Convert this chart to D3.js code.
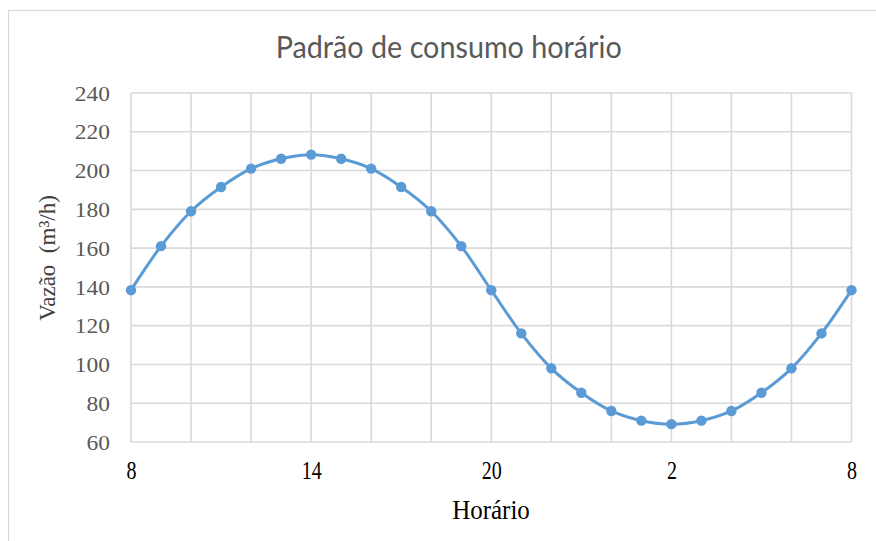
<!DOCTYPE html>
<html>
<head>
<meta charset="utf-8">
<script src="https://cdn.jsdelivr.net/npm/d3@7"></script>
<style>
  html, body { margin: 0; padding: 0; background: #fff; }
  svg { display: block; }
</style>
</head>
<body>
<svg id="chart" width="876" height="541"></svg>
<script>
// ---- data ----
const hours = [8, 9, 10, 11, 12, 13, 14, 15, 16, 17, 18, 19, 20, 21, 22, 23, 0, 1, 2, 3, 4, 5, 6, 7, 8];
const vazao = [138.3, 161, 179, 191.5, 201, 206.1, 208.2, 206.1, 201, 191.5, 179, 161, 138.3, 116, 98, 85.4, 76, 71, 69.2, 71, 76, 85.4, 98, 116, 138.3];
const yTicks = [60, 80, 100, 120, 140, 160, 180, 200, 220, 240];
const xLabelIdx = [0, 6, 12, 18, 24];
const xGridIdx = [0, 2, 4, 6, 8, 10, 12, 14, 16, 18, 20, 22, 24];
const titleText = "Padrão de consumo horário";
const xTitle = "Horário";
const yTitle = "Vazão\u00a0 (m³/h)";

// ---- layout ----
const svg = d3.select("#chart");
const L = 131, R = 851.5, T = 93, B = 442;
const x = d3.scaleLinear().domain([0, hours.length - 1]).range([L, R]);
const y = d3.scaleLinear().domain([60, 240]).range([B, T]);

// outer chart border
svg.append("rect")
  .attr("x", 8.5).attr("y", 10.5)
  .attr("width", 900).attr("height", 600)
  .attr("fill", "none").attr("stroke", "#d9d9d9").attr("stroke-width", 1.2);

// title
svg.append("text")
  .attr("x", 448.7).attr("y", 58.3)
  .attr("text-anchor", "middle")
  .attr("font-family", "Lato, 'Open Sans', sans-serif")
  .attr("font-size", 30)
  .attr("fill", "#595959")
  .attr("textLength", 346)
  .attr("lengthAdjust", "spacingAndGlyphs")
  .text(titleText);

// gridlines
const grid = svg.append("g").attr("stroke", "#d9d9d9").attr("stroke-width", 1.6);
grid.selectAll("line.h").data(yTicks).join("line")
  .attr("x1", L).attr("x2", R)
  .attr("y1", d => y(d)).attr("y2", d => y(d));
grid.selectAll("line.v").data(xGridIdx).join("line")
  .attr("x1", d => x(d)).attr("x2", d => x(d))
  .attr("y1", T).attr("y2", B);

// y axis
const sx = 1.12;
const gy = svg.append("g").attr("transform", `translate(${L},0)`)
  .call(d3.axisLeft(y).tickValues(yTicks).tickSize(0));
gy.select(".domain").remove();
gy.selectAll("text")
  .attr("font-family", "'Liberation Serif', 'Times New Roman', serif")
  .attr("font-size", 21)
  .attr("fill", "#595959")
  .attr("x", -21 / sx)
  .attr("dy", "0.34em")
  .attr("transform", `scale(${sx},1)`);

// x axis
const sy = 1.25;
const gx = svg.append("g").attr("transform", `translate(0,${B})`)
  .call(d3.axisBottom(x).tickValues(xLabelIdx).tickFormat(i => hours[i]).tickSize(0));
gx.select(".domain").remove();
gx.selectAll("text")
  .attr("font-family", "'Liberation Serif', 'Times New Roman', serif")
  .attr("font-size", 20)
  .attr("fill", "#000")
  .attr("y", 37 / sy)
  .attr("dy", 0)
  .attr("transform", `scale(1,${sy})`);

// axis titles
svg.append("text")
  .attr("text-anchor", "middle")
  .attr("font-family", "'Liberation Serif', 'Times New Roman', serif")
  .attr("font-size", 25)
  .attr("fill", "#000")
  .attr("transform", `translate(491,519.3) scale(1,1.12)`)
  .text(xTitle);

svg.append("text")
  .attr("text-anchor", "middle")
  .attr("font-family", "'Liberation Serif', 'Times New Roman', serif")
  .attr("font-size", 23)
  .attr("fill", "#404040")
  .attr("transform", "translate(55,258) rotate(-90)")
  .text(yTitle);

// line
const pts = vazao.map((v, i) => [i, v]);
const line = d3.line()
  .x(d => x(d[0])).y(d => y(d[1]))
  .curve(d3.curveCatmullRom.alpha(0.5));
svg.append("path")
  .datum(pts)
  .attr("d", line)
  .attr("fill", "none")
  .attr("stroke", "#5B9BD5")
  .attr("stroke-width", 3);

svg.append("g").selectAll("circle").data(pts).join("circle")
  .attr("cx", d => x(d[0])).attr("cy", d => y(d[1]))
  .attr("r", 5.2)
  .attr("fill", "#5B9BD5");
</script>
</body>
</html>
